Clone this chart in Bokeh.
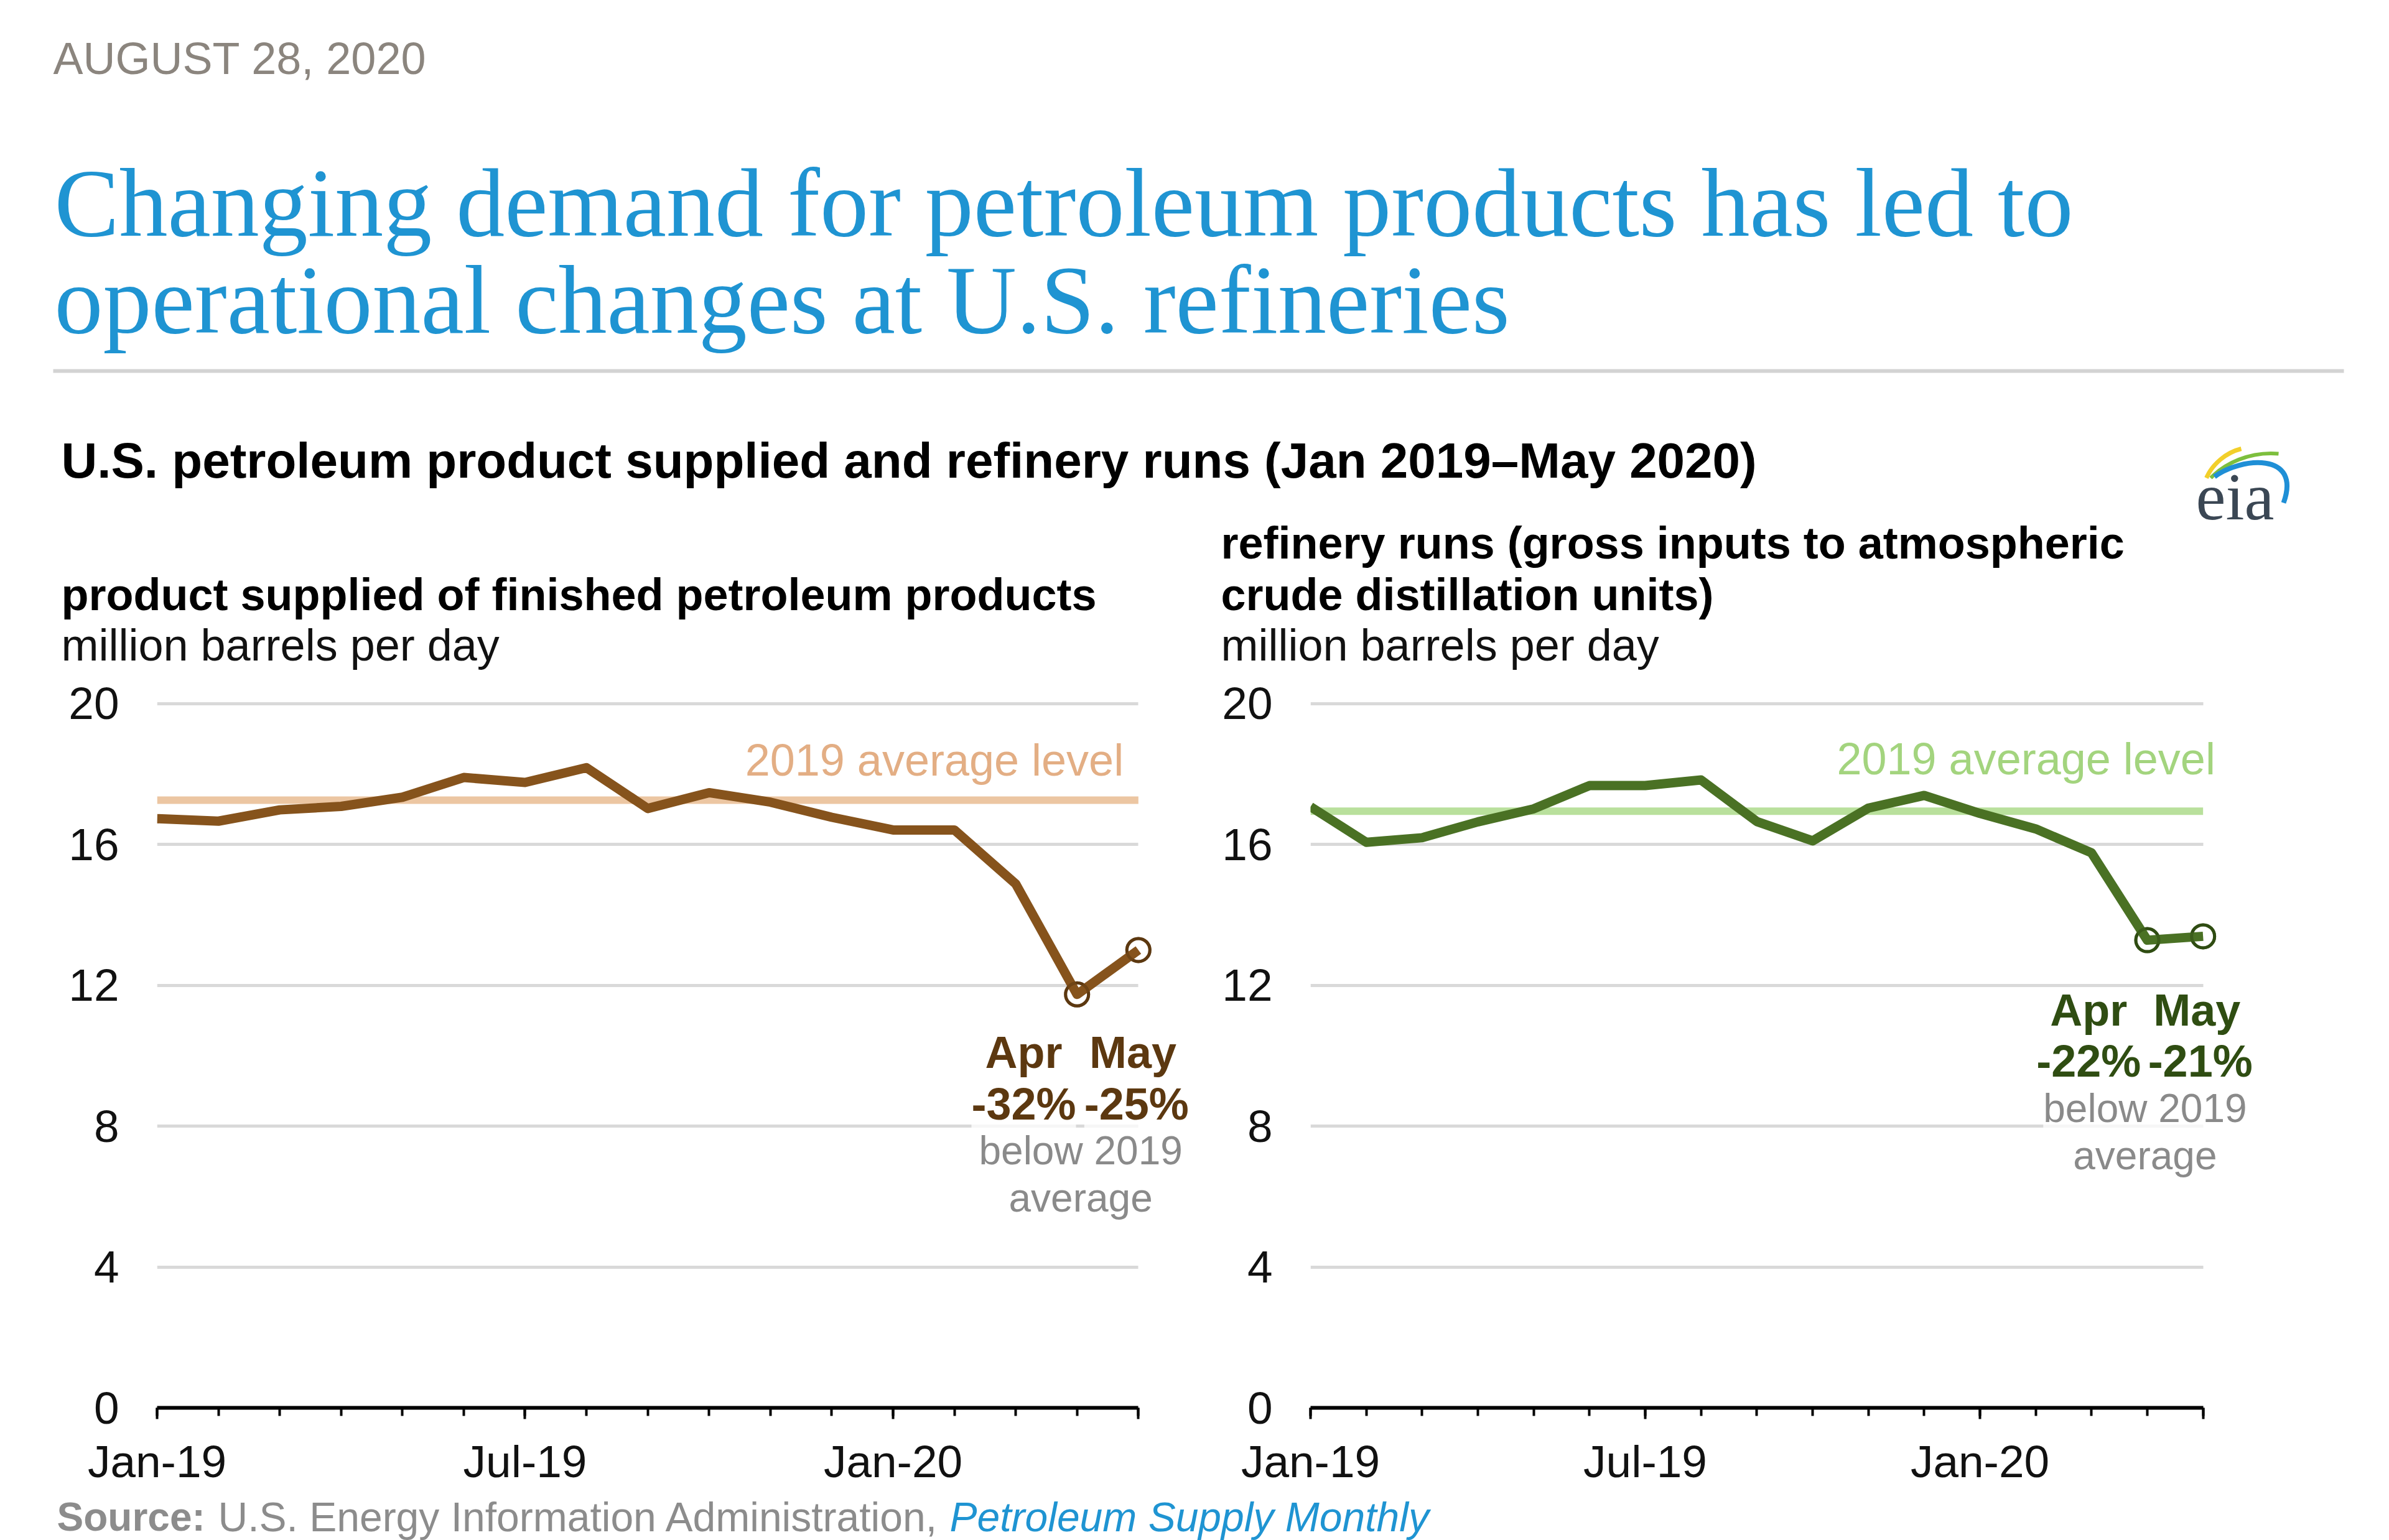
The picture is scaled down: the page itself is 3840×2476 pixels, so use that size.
from bokeh.plotting import figure
from bokeh.models import Range1d, Label, FixedTicker
from bokeh.layouts import column, row
from bokeh.embed import file_html
from bokeh.resources import INLINE

# ---------------- data ----------------
months = ["Jan-19", "Feb-19", "Mar-19", "Apr-19", "May-19", "Jun-19", "Jul-19", "Aug-19",
          "Sep-19", "Oct-19", "Nov-19", "Dec-19", "Jan-20", "Feb-20", "Mar-20", "Apr-20", "May-20"]
product_supplied = [16.73, 16.66, 16.98, 17.08, 17.34, 17.90, 17.76, 18.18,
                    17.02, 17.47, 17.20, 16.77, 16.41, 16.41, 14.88, 11.74, 13.00]
refinery_runs = [17.07, 16.06, 16.19, 16.64, 17.01, 17.67, 17.67, 17.83,
                 16.65, 16.10, 17.03, 17.39, 16.88, 16.44, 15.76, 13.28, 13.39]
y_ticks = [0, 4, 8, 12, 16, 20]
x_label_months = ["Jan-19", "Jul-19", "Jan-20"]
left_notes = ["Apr", "May", "-32%", "-25%"]
right_notes = ["Apr", "May", "-22%", "-21%"]

SANS = "Liberation Sans"
SERIF = "Liberation Serif"
W = 3840
HEAD_H = 1085
PANEL_H = 1307
FOOT_H = 84
FRAME_TOP = 23
FRAME_H = 1157


def lab(p, x, y, text, size, color, style="normal", font=SANS, align="left",
        baseline="middle", bg=None):
    kw = {}
    if bg is not None:
        kw = dict(background_fill_color="white", background_fill_alpha=bg)
    p.add_layout(Label(x=x, y=y, text=text, text_font=font, text_font_size=f"{size}px",
                       text_color=color, text_font_style=style, text_align=align,
                       text_baseline=baseline, **kw))


# ---------------- header ----------------
head = figure(width=W, height=HEAD_H, x_range=Range1d(0, W), y_range=Range1d(HEAD_H, 0),
              output_backend="svg", toolbar_location=None, min_border=0,
              outline_line_color=None, x_axis_type=None, y_axis_type=None)
head.grid.visible = False

lab(head, 85, 93, "AUGUST 28, 2020", 72, "#8b857e")
lab(head, 87, 326, "Changing demand for petroleum products has led to", 156, "#1f94d2", font=SERIF)
lab(head, 87, 482, "operational changes at U.S. refineries", 156, "#1f94d2", font=SERIF)
head.segment(x0=[85], y0=[596], x1=[3767], y1=[596], line_color="#d3d3d3", line_width=6)
lab(head, 98, 740, "U.S. petroleum product supplied and refinery runs (Jan 2019\u2013May 2020)", 80,
    "#000000", style="bold")
lab(head, 98, 955, "product supplied of finished petroleum products", 72, "#000000", style="bold")
lab(head, 98, 1036, "million barrels per day", 72, "#111111")
lab(head, 1962, 872, "refinery runs (gross inputs to atmospheric", 72, "#000000", style="bold")
lab(head, 1962, 955, "crude distillation units)", 72, "#000000", style="bold")
lab(head, 1962, 1036, "million barrels per day", 72, "#111111")

# eia logo
head.bezier(x0=[3546], y0=[768], x1=[3602], y1=[721], cx0=[3556], cy0=[745], cx1=[3578], cy1=[727],
            line_color="#f2cf2a", line_width=7)
head.bezier(x0=[3553], y0=[768], x1=[3662], y1=[729], cx0=[3575], cy0=[745], cx1=[3615], cy1=[725],
            line_color="#7dbf3d", line_width=6)
head.bezier(x0=[3559], y0=[766], x1=[3670], y1=[808], cx0=[3600], cy0=[735], cx1=[3700], cy1=[725],
            line_color="#1f8fd6", line_width=8)
lab(head, 3529, 798, "eia", 108, "#3b4754", font=SERIF)


# ---------------- panels ----------------
def panel(values, notes, line_color, dark_color, avg_line_color, avg_text_color,
          border_left, border_right, x_end, note_pos, avg_label_pos):
    x = list(range(len(months)))
    last = len(months) - 1
    p = figure(width=1920, height=PANEL_H, x_range=Range1d(0, x_end),
               y_range=Range1d(0, 20.4), output_backend="svg", toolbar_location=None,
               min_border_left=border_left, min_border_right=border_right,
               min_border_top=FRAME_TOP, min_border_bottom=PANEL_H - FRAME_TOP - FRAME_H,
               outline_line_color=None)
    p.xgrid.visible = False
    grid = p.ygrid[0]
    grid.grid_line_color = "#d9d9d9"
    grid.grid_line_width = 5
    try:
        grid.cross_bounds = (x[0], x[-1])
    except Exception:
        grid.visible = False
        gy = [t for t in y_ticks if t > 0]
        p.segment(x0=[x[0]] * len(gy), y0=gy, x1=[x[-1]] * len(gy), y1=gy,
                  line_color="#d9d9d9", line_width=5)

    major = [months.index(m) for m in x_label_months] + [last]
    p.xaxis.bounds = (x[0], x[-1])
    p.xaxis.ticker = FixedTicker(ticks=major, minor_ticks=x)
    overrides = {months.index(m): m for m in x_label_months}
    overrides[last] = ""
    p.xaxis.major_label_overrides = overrides
    p.xaxis.axis_line_width = 6
    p.xaxis.axis_line_color = "#000000"
    p.xaxis.major_tick_line_width = 4
    p.xaxis.major_tick_line_color = "#000000"
    p.xaxis.major_tick_out = 18
    p.xaxis.major_tick_in = 0
    p.xaxis.minor_tick_line_width = 4
    p.xaxis.minor_tick_line_color = "#000000"
    p.xaxis.minor_tick_out = 13
    p.xaxis.minor_tick_in = 0
    p.xaxis.major_label_text_font = SANS
    p.xaxis.major_label_text_font_size = "73px"
    p.xaxis.major_label_text_color = "#111111"
    p.xaxis.major_label_standoff = 27

    p.yaxis.ticker = FixedTicker(ticks=y_ticks)
    p.yaxis.axis_line_color = None
    p.yaxis.major_tick_line_color = None
    p.yaxis.minor_tick_line_color = None
    p.yaxis.major_tick_out = 0
    p.yaxis.major_tick_in = 0
    p.yaxis.major_label_standoff = 61
    p.yaxis.major_label_text_font = SANS
    p.yaxis.major_label_text_font_size = "73px"
    p.yaxis.major_label_text_color = "#111111"

    avg = sum(values[:12]) / 12.0
    p.line([x[0], x[-1]], [avg, avg], line_color=avg_line_color, line_width=12)
    p.scatter(x[-2:], values[-2:], marker="circle", size=37, fill_color="white", fill_alpha=1.0,
              line_color=dark_color, line_width=5)
    p.line(x, values, line_color=line_color, line_width=15, line_join="round")
    p.scatter(x[-2:], values[-2:], marker="circle", size=37, fill_color=None,
              line_color=dark_color, line_width=5, line_alpha=0.55)

    lab(p, avg_label_pos[0], avg_label_pos[1], "2019 average level", 72, avg_text_color,
        align="right")

    (ax, mx, yh, yp, cx, yb, ya) = note_pos
    lab(p, ax, yh, notes[0], 72, dark_color, style="bold", align="center")
    lab(p, mx, yh, notes[1], 72, dark_color, style="bold", align="center")
    lab(p, ax, yp, notes[2], 72, dark_color, style="bold", align="center", bg=0.75)
    lab(p, mx + 0.06, yp, notes[3], 72, dark_color, style="bold", align="center", bg=0.75)
    lab(p, cx, yb, "below 2019", 64, "#8a8a8a", align="center", bg=0.75)
    lab(p, cx, ya, "average", 64, "#8a8a8a", align="center", bg=0.75)
    return p


left = panel(product_supplied, left_notes, "#86531c", "#5c3810", "#ecc6a2", "#e3ae84",
             252, 0, 16.92, (14.13, 15.91, 10.1, 8.62, 15.06, 7.3, 5.96), (15.76, 18.4))
right = panel(refinery_runs, right_notes, "#4a7124", "#2f4d12", "#b9e09c", "#a3d47e",
              186, 120, 18.0, (13.95, 15.89, 11.3, 9.84, 14.96, 8.5, 7.16), (16.22, 18.43))

# ---------------- footer ----------------
foot = figure(width=W, height=FOOT_H, x_range=Range1d(0, W), y_range=Range1d(FOOT_H, 0),
              output_backend="svg", toolbar_location=None, min_border=0,
              outline_line_color=None, x_axis_type=None, y_axis_type=None)
foot.grid.visible = False
lab(foot, 91, 46, "Source:", 64, "#8c8c8c", style="bold")
lab(foot, 350, 46, "U.S. Energy Information Administration,", 66, "#8c8c8c")
lab(foot, 1526, 46, "Petroleum Supply Monthly", 66, "#1f94d2", style="italic")

layout = column(head, row(left, right), foot)
open("out.html", "w").write(file_html(layout, INLINE))
